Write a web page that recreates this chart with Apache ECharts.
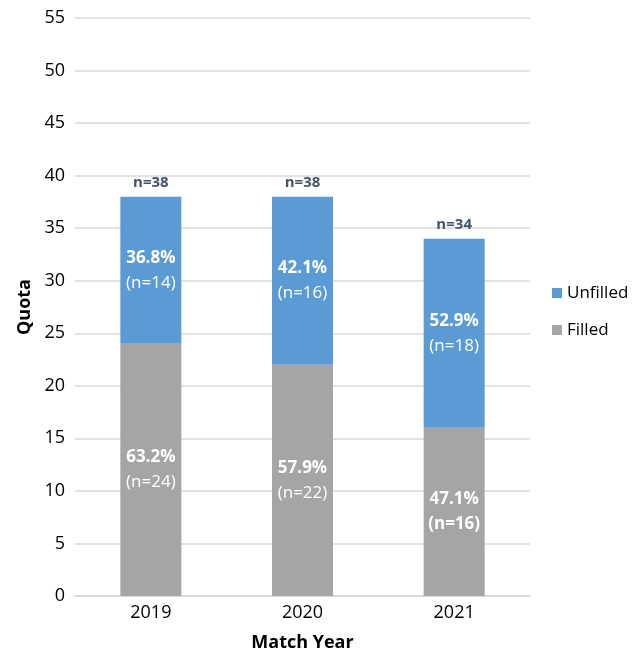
<!DOCTYPE html>
<html>
<head>
<meta charset="utf-8">
<script src="https://cdn.jsdelivr.net/npm/echarts@6/dist/echarts.min.js"></script>
<style>
  html, body { margin: 0; padding: 0; background: #fff; }
  #chartQuota { width: 638px; height: 654px; }
</style>
</head>
<body>
<div id="chartQuota"></div>
<script>
var years = ['2019', '2020', '2021'];
var filled = [24, 22, 16];
var unfilled = [14, 16, 18];
var filledPct = ['63.2%', '57.9%', '47.1%'];
var unfilledPct = ['36.8%', '42.1%', '52.9%'];
var totals = [38, 38, 34];
var yTicks = [0, 5, 10, 15, 20, 25, 30, 35, 40, 45, 50, 55];

var font = '"Open Sans", sans-serif';

function segLabel(pcts, counts, boldCount) {
  return function(p) {
    var i = p.dataIndex;
    var c = (boldCount && boldCount[i]) ? 'bb' : 'b';
    return '{a|' + pcts[i] + '}\n{' + c + '|(n=' + counts[i] + ')}';
  };
}

var richStyle = {
  a: { color: '#fff', fontSize: 17, fontWeight: 'bold', fontFamily: font, lineHeight: 25 },
  b: { color: '#fff', fontSize: 17, fontWeight: 'normal', fontFamily: font, lineHeight: 25 },
  bb: { color: '#fff', fontSize: 17, fontWeight: 'bold', fontFamily: font, lineHeight: 25 }
};

var option = {
  animation: false,
  grid: {
    left: 75,
    right: 108,
    top: 18,
    bottom: 58,
    outerBoundsMode: 'none'
  },
  legend: {
    data: ['Unfilled', 'Filled'],
    orient: 'vertical',
    left: 547,
    top: 278,
    itemWidth: 10,
    itemHeight: 10,
    itemGap: 17,
    icon: 'rect',
    textStyle: {
      color: '#000',
      fontSize: 17,
      fontFamily: font,
      lineHeight: 20
    }
  },
  xAxis: {
    type: 'category',
    data: years,
    name: 'Match Year',
    nameLocation: 'middle',
    nameGap: 38,
    nameTextStyle: {
      color: '#000',
      fontSize: 18,
      fontWeight: 'bold',
      fontFamily: font
    },
    axisTick: { show: false },
    axisLine: { lineStyle: { color: '#d9d9d9', width: 1.5 } },
    axisLabel: {
      color: '#000',
      fontSize: 18,
      fontFamily: font,
      margin: 8
    }
  },
  yAxis: {
    type: 'value',
    min: 0,
    max: 55,
    interval: 5,
    name: 'Quota',
    nameLocation: 'middle',
    nameGap: 37,
    nameTextStyle: {
      color: '#000',
      fontSize: 18,
      fontWeight: 'bold',
      fontFamily: font
    },
    axisLine: { show: false },
    axisTick: { show: false },
    axisLabel: {
      color: '#000',
      fontSize: 18,
      fontFamily: font,
      margin: 10,
      formatter: function(val) {
        return yTicks.indexOf(val) >= 0 ? String(val) : '';
      }
    },
    splitLine: { lineStyle: { color: '#d9d9d9', width: 1.5 } }
  },
  series: [
    {
      name: 'Filled',
      type: 'bar',
      stack: 'q',
      barWidth: 61,
      data: filled,
      itemStyle: { color: '#a5a5a5' },
      label: {
        show: true,
        position: 'inside',
        formatter: segLabel(filledPct, filled, [false, false, true]),
        rich: richStyle
      }
    },
    {
      name: 'Unfilled',
      type: 'bar',
      stack: 'q',
      barWidth: 61,
      data: unfilled,
      itemStyle: { color: '#5b9bd5' },
      label: {
        show: true,
        position: 'inside',
        formatter: segLabel(unfilledPct, unfilled),
        rich: richStyle
      }
    },
    {
      // zero-height series just to carry the totals above each stack
      name: 'Total',
      type: 'bar',
      stack: 'q',
      barWidth: 61,
      data: [0, 0, 0],
      itemStyle: { color: 'transparent' },
      label: {
        show: true,
        position: 'top',
        distance: 6,
        color: '#44546a',
        fontSize: 15,
        fontWeight: 'bold',
        fontFamily: font,
        formatter: function(p) {
          return 'n=' + totals[p.dataIndex];
        }
      }
    }
  ]
};

var chartQuota = echarts.init(document.getElementById('chartQuota'));
chartQuota.setOption(option);

window.addEventListener('resize', function() {
  chartQuota.resize();
});
</script>
</body>
</html>
